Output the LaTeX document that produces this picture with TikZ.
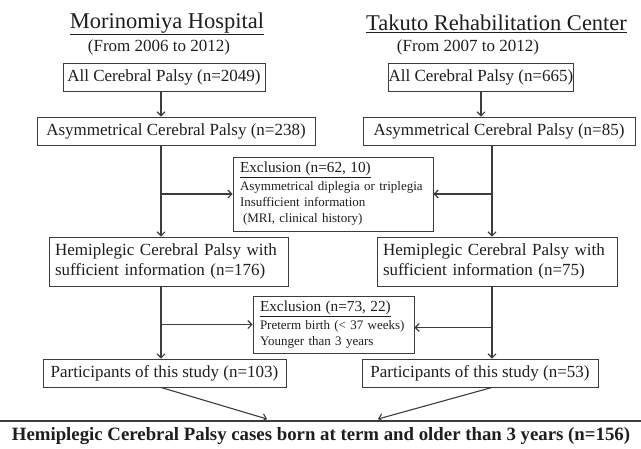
\documentclass[tikz,border=0pt]{standalone}
\usepackage{fontspec}
\setmainfont{Liberation Serif}
\usetikzlibrary{arrows.meta, positioning}
\definecolor{linegray}{HTML}{3C3C3C}
\definecolor{textdark}{HTML}{1E1E1E}
\tikzstyle{box} = [draw=linegray, line width=0.9pt, text=textdark, minimum height=28pt, inner sep=0pt, font=\fontsize{17}{20}\selectfont]
\tikzstyle{twoline} = [box, align=left, minimum height=49pt, inner xsep=6pt]
\tikzstyle{exclbox} = [draw=linegray, line width=0.9pt, text=textdark, align=left, inner xsep=7pt, inner ysep=0pt, font=\fontsize{13}{16}\selectfont]
\tikzstyle{heading} = [text=textdark, inner sep=0pt, font=\fontsize{22.5}{26}\selectfont]
\tikzstyle{subhead} = [text=textdark, inner sep=0pt, font=\fontsize{17}{20}\selectfont]
\tikzstyle{result} = [text=textdark, inner sep=0pt, font=\fontsize{18.8}{22}\selectfont\bfseries]
\tikzstyle{arrow} = [line width=1.1pt, ->, >={Straight Barb[length=4pt,width=8pt]}, color=linegray]
\newcommand{\exclhead}[1]{{\fontsize{15.3}{18}\selectfont\underline{#1}}}

\begin{document}
\begin{tikzpicture}[x=1pt, y=-1pt]
    \useasboundingbox (0,0) rectangle (641,448);
    \node[heading] (titleL) at (167,24) {\underline{Morinomiya Hospital}};
    \node[subhead] (yearsL) at (159,47) {(From 2006 to 2012)};
    \node[heading] (titleR) at (496.5,24) {\underline{Takuto Rehabilitation Center}};
    \node[subhead] (yearsR) at (468,47) {(From 2007 to 2012)};

    \node[box, minimum width=202pt] (allL) at (164,77) {All Cerebral Palsy (n=2049)};
    \node[box, minimum width=278pt] (asymL) at (176,131) {Asymmetrical Cerebral Palsy (n=238)};
    \node[box, minimum width=182pt] (allR) at (481,77) {All Cerebral Palsy (n=665)};
    \node[box, minimum width=272pt] (asymR) at (499,131) {Asymmetrical Cerebral Palsy (n=85)};

    \node[exclbox, text width=186pt, minimum height=74pt] (excl1) at (333,194) {\exclhead{Exclusion (n=62, 10)}\\[2pt]Asymmetrical diplegia or triplegia\\Insufficient information\\\hspace{3pt}(MRI, clinical history)};

    \node[twoline, text width=227pt] (hemiL) at (168.5,261.5) {Hemiplegic Cerebral Palsy with\\sufficient information (n=176)};
    \node[twoline, text width=228pt] (hemiR) at (497,261.5) {Hemiplegic Cerebral Palsy with\\sufficient information (n=75)};

    \node[exclbox, text width=147pt, minimum height=57pt] (excl2) at (333.5,324.5) {\exclhead{Exclusion (n=73, 22)}\\[2pt]Preterm birth (< 37 weeks)\\Younger than 3 years};

    \node[box, minimum width=243pt] (partL) at (164.5,373) {Participants of this study (n=103)};
    \node[box, minimum width=236pt] (partR) at (480,373) {Participants of this study (n=53)};

    \coordinate (lineL) at (161,0);
    \coordinate (lineR) at (492,0);
    \coordinate (meetL) at (267,419);
    \coordinate (meetR) at (378,419);
    \coordinate (ruleW) at (0,421);
    \coordinate (ruleE) at (641,421);

    \draw[arrow] (allL.south -| lineL) -- (asymL.north -| lineL);
    \draw[arrow] (allR.south) -- (asymR.north -| allR.south);
    \draw[arrow] (asymL.south -| lineL) -- (hemiL.north -| lineL);
    \draw[arrow] (excl1.west -| lineL) -- (excl1.west);
    \draw[arrow] (asymR.south -| lineR) -- (hemiR.north -| lineR);
    \draw[arrow] (excl1.east -| lineR) -- (excl1.east);
    \draw[arrow] (hemiL.south -| lineL) -- (partL.north -| lineL);
    \draw[arrow] (excl2.west -| lineL) -- (excl2.west);
    \draw[arrow] (hemiR.south -| lineR) -- (partR.north -| lineR);
    \draw[arrow] ([yshift=-3pt]excl2.east -| lineR) -- ([yshift=-3pt]excl2.east);
    \draw[arrow] (partL.south -| lineL) -- (meetL);
    \draw[arrow] (partR.south -| lineR) -- (meetR);

    \draw[line width=2pt, color=linegray] (ruleW) -- (ruleE);
    \node[result] (total) at (321,436) {Hemiplegic Cerebral Palsy cases born at term and older than 3 years (n=156)};
\end{tikzpicture}
\end{document}
